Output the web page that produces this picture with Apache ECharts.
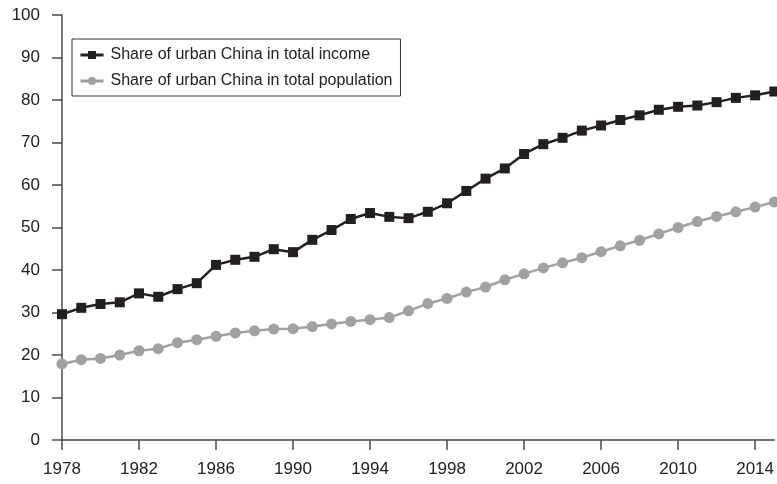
<!DOCTYPE html>
<html>
<head>
<meta charset="utf-8">
<script src="https://cdn.jsdelivr.net/npm/echarts@6/dist/echarts.min.js"></script>
<style>html,body{margin:0;padding:0;background:#fff}#c{width:777px;height:484px}</style>
</head>
<body>
<div id="c"></div>
<script>
const years = [];
for (let y = 1978; y <= 2015; y++) years.push(String(y));
const incomeShare = [29.6,31.1,32.0,32.4,34.5,33.7,35.5,36.9,41.2,42.4,43.1,44.9,44.2,47.1,49.4,52.0,53.4,52.5,52.2,53.7,55.7,58.6,61.5,63.9,67.3,69.6,71.1,72.8,74.0,75.3,76.4,77.7,78.4,78.7,79.5,80.5,81.1,82.0];
const populationShare = [17.9,18.9,19.2,20.0,21.0,21.5,22.9,23.6,24.4,25.2,25.7,26.1,26.2,26.7,27.3,27.9,28.3,28.8,30.4,32.1,33.3,34.8,36.0,37.7,39.1,40.5,41.7,42.9,44.3,45.7,47.0,48.5,50.0,51.4,52.6,53.7,54.8,56.0];
const seriesNames = ['Share of urban China in total income','Share of urban China in total population'];

const chart = echarts.init(document.getElementById('c'), null, {renderer:'canvas'});
const axisColor = '#4a4a4a';
const font = 'Liberation Sans, Arial, Helvetica, sans-serif';
chart.setOption({
  animation: false,
  backgroundColor: '#fff',
  grid: {left: 62, right: 2, top: 15, bottom: 44},
  legend: {
    orient: 'vertical',
    left: 72, top: 39,
    padding: [8, 8, 7, 7],
    itemGap: 10,
    itemWidth: 23, itemHeight: 10,
    borderColor: '#333', borderWidth: 1,
    backgroundColor: '#fff',
    lineStyle: {width: 3},
    textStyle: {fontSize: 16, color: '#222', fontFamily: font, padding: [0, 0, 0, 2]},
    data: seriesNames
  },
  xAxis: {
    type: 'category',
    data: years,
    boundaryGap: false,
    axisLine: {lineStyle: {color: axisColor, width: 1.5}},
    axisTick: {interval: 3, length: 10, lineStyle: {color: axisColor, width: 1.5}},
    axisLabel: {interval: 3, margin: 21, fontSize: 17, color: '#222', fontFamily: font},
    splitLine: {show: false}
  },
  yAxis: {
    type: 'value',
    min: 0, max: 100, interval: 10,
    axisLine: {show: true, lineStyle: {color: axisColor, width: 1.5}},
    axisTick: {show: true, length: 10, lineStyle: {color: axisColor, width: 1.5}},
    axisLabel: {margin: 22, fontSize: 17, color: '#222', fontFamily: font},
    splitLine: {show: false}
  },
  series: [
    {
      name: seriesNames[0], type: 'line', data: incomeShare,
      symbol: 'rect', symbolSize: 10, showAllSymbol: true,
      lineStyle: {color: '#231f20', width: 2.5},
      itemStyle: {color: '#231f20'},
      z: 3
    },
    {
      name: seriesNames[1], type: 'line', data: populationShare,
      symbol: 'circle', symbolSize: 11, showAllSymbol: true,
      lineStyle: {color: '#a0a1a3', width: 2.5},
      itemStyle: {color: '#a0a1a3'},
      z: 2
    }
  ]
});
</script>
</body>
</html>
